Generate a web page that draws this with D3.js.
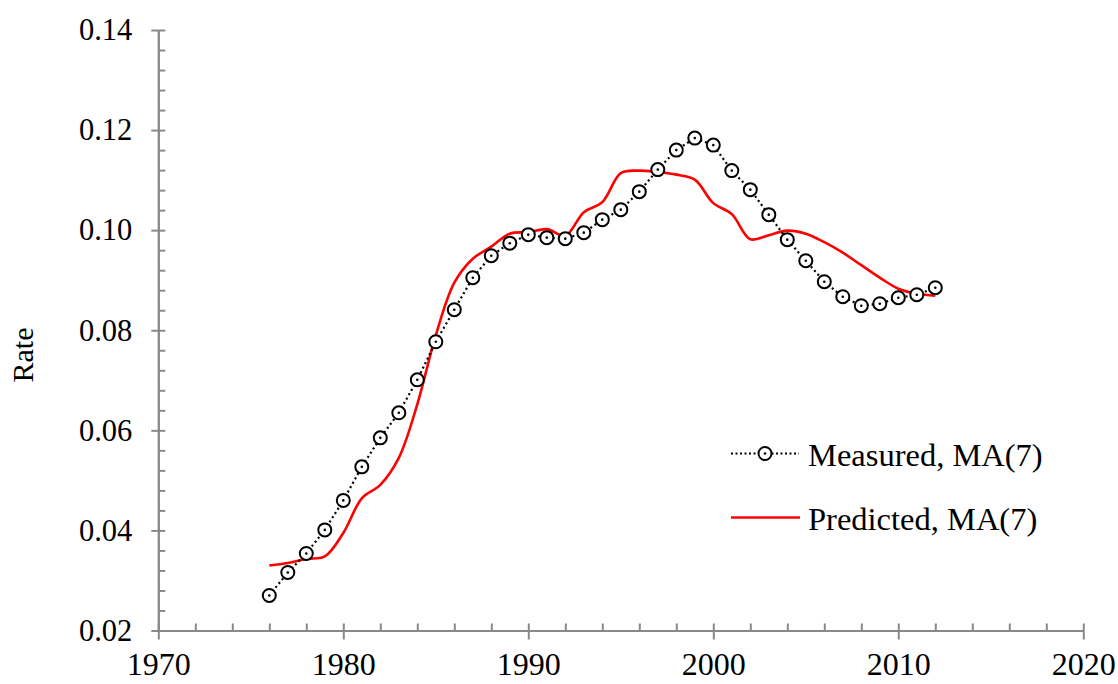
<!DOCTYPE html>
<html>
<head>
<meta charset="utf-8">
<script src="https://cdn.jsdelivr.net/npm/d3@7"></script>
<style>
  html, body { margin: 0; padding: 0; background: #ffffff; }
  svg { display: block; }
  text { font-family: "Liberation Serif", "DejaVu Serif", serif; fill: #000; }
</style>
</head>
<body>
<svg id="chart" width="1118" height="684"></svg>
<script>
// ---------------- data ----------------
const years = [1976,1977,1978,1979,1980,1981,1982,1983,1984,1985,1986,1987,1988,1989,1990,
  1991,1992,1993,1994,1995,1996,1997,1998,1999,2000,2001,2002,2003,2004,2005,2006,2007,2008,
  2009,2010,2011,2012];
const measured = [0.0270,0.0316,0.0354,0.0401,0.0460,0.0527,0.0585,0.0635,0.0701,0.0777,0.0841,
  0.0905,0.0949,0.0974,0.0991,0.0985,0.0983,0.0995,0.1021,0.1041,0.1077,0.1121,0.1160,0.1184,
  0.1170,0.1119,0.1081,0.1031,0.0981,0.0939,0.0897,0.0867,0.0849,0.0853,0.0865,0.0871,0.0885];
const predicted = [0.0330,0.0335,0.0343,0.0348,0.0395,0.0464,0.0491,0.0545,0.0652,0.0790,0.0895,
  0.0943,0.0967,0.0993,0.0996,0.1002,0.0989,0.1036,0.1056,0.1114,0.1119,0.1116,0.1111,0.1101,
  0.1054,0.1032,0.0982,0.0990,0.0999,0.0993,0.0976,0.0955,0.0930,0.0905,0.0883,0.0873,0.0869];
const xTicks = [1970,1980,1990,2000,2010,2020];
const yTicks = [0.02,0.04,0.06,0.08,0.10,0.12,0.14];
const seriesNames = ["Measured, MA(7)", "Predicted, MA(7)"];
const yTitle = "Rate";

// ---------------- chart ----------------
const svg = d3.select("#chart");
const axisColor = "#898989";
const fontFam = '"Liberation Serif", "DejaVu Serif", serif';

const x = d3.scaleLinear().domain([1970, 2020]).range([158.3, 1083.3]);
const y = d3.scaleLinear().domain([0.02, 0.14]).range([630.5, 30]);

const xMinor = d3.range(1970, 2020.1, 2);
const yMinor = d3.range(0, 31).map(i => 0.02 + i * 0.004);

// x axis: major ticks downward with labels
const gx = svg.append("g").attr("transform", `translate(0,${y(0.02)})`)
  .call(d3.axisBottom(x).tickValues(xTicks).tickFormat(d3.format("d"))
        .tickSizeInner(9).tickSizeOuter(0).tickPadding(13));
// x axis: minor ticks upward
const gx2 = svg.append("g").attr("transform", `translate(0,${y(0.02)})`)
  .call(d3.axisTop(x).tickValues(xMinor).tickFormat("").tickSizeInner(7).tickSizeOuter(0));

// y axis: major ticks leftward with labels
const gy = svg.append("g").attr("transform", `translate(${x(1970)},0)`)
  .call(d3.axisLeft(y).tickValues(yTicks).tickFormat(d3.format(".2f"))
        .tickSizeInner(7).tickSizeOuter(0).tickPadding(19));
// y axis: minor ticks rightward
const gy2 = svg.append("g").attr("transform", `translate(${x(1970)},0)`)
  .call(d3.axisRight(y).tickValues(yMinor).tickFormat("").tickSizeInner(7).tickSizeOuter(0));

[gx, gx2, gy, gy2].forEach(g => {
  g.selectAll("path.domain").attr("stroke", axisColor).attr("stroke-width", 2);
  g.selectAll(".tick line").attr("stroke", axisColor).attr("stroke-width", 2);
  g.selectAll(".tick text").style("font-family", fontFam).attr("fill", "#000");
});
gx.selectAll(".tick text").style("font-size", "32px");
gy.selectAll(".tick text").style("font-size", "30.5px");

// y title
svg.append("text")
  .attr("transform", `translate(33,355) rotate(-90)`)
  .attr("text-anchor", "middle")
  .style("font-size", "30px")
  .text(yTitle);

const mData = years.map((d, i) => ({ year: d, v: measured[i] }));
const pData = years.map((d, i) => ({ year: d, v: predicted[i] }));

// predicted smooth red line
const predLine = d3.line().x(d => x(d.year)).y(d => y(d.v)).curve(d3.curveCatmullRom.alpha(0.5));
svg.append("path").datum(pData)
  .attr("fill", "none").attr("stroke", "#ff0000").attr("stroke-width", 2.6)
  .attr("d", predLine);

// measured dotted line
const measLine = d3.line().x(d => x(d.year)).y(d => y(d.v));
svg.append("path").datum(mData)
  .attr("fill", "none").attr("stroke", "#000").attr("stroke-width", 2.2)
  .attr("stroke-dasharray", "2,3")
  .attr("d", measLine);

// measured markers
const mk = svg.append("g").selectAll("g").data(mData).join("g")
  .attr("transform", d => `translate(${x(d.year)},${y(d.v)})`);
mk.append("circle").attr("r", 6.5).attr("fill", "#fff").attr("stroke", "#000").attr("stroke-width", 2);
mk.append("circle").attr("r", 1.3).attr("fill", "#000");

// legend
const leg = svg.append("g");
leg.append("line").attr("x1", 731).attr("x2", 799).attr("y1", 453.5).attr("y2", 453.5)
  .attr("stroke", "#000").attr("stroke-width", 2).attr("stroke-dasharray", "2,2.5");
leg.append("circle").attr("cx", 765).attr("cy", 453.5).attr("r", 6.5)
  .attr("fill", "#fff").attr("stroke", "#000").attr("stroke-width", 2);
leg.append("circle").attr("cx", 765).attr("cy", 453.5).attr("r", 1.3).attr("fill", "#000");
leg.append("text").attr("x", 808).attr("y", 465.5).style("font-size", "32.5px").text(seriesNames[0]);

leg.append("line").attr("x1", 731).attr("x2", 800).attr("y1", 517.5).attr("y2", 517.5)
  .attr("stroke", "#ff0000").attr("stroke-width", 2.6);
leg.append("text").attr("x", 808).attr("y", 529.5).style("font-size", "32.5px").text(seriesNames[1]);
</script>
</body>
</html>
